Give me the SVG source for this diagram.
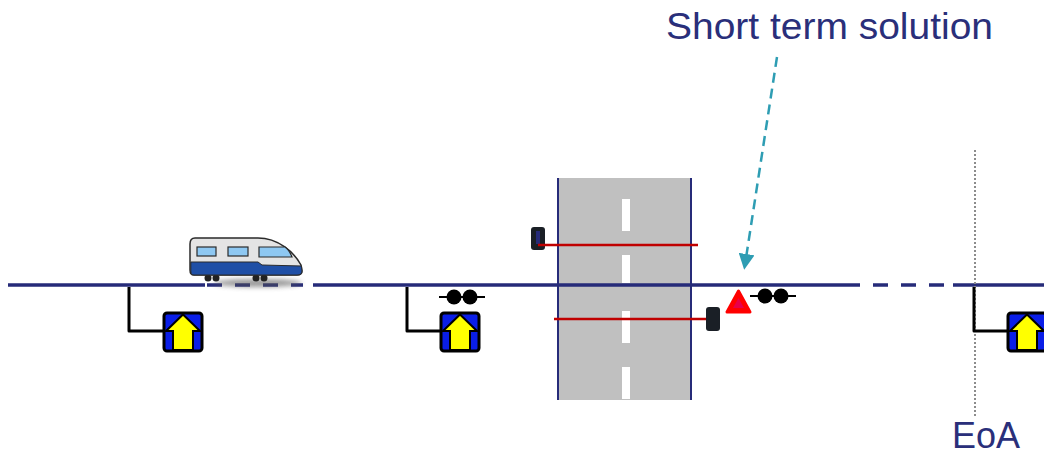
<svg xmlns="http://www.w3.org/2000/svg" width="1044" height="454" viewBox="0 0 1044 454">
  <defs>
    <style>
      .track { stroke: #262b79; stroke-width: 3.5; fill: none; }
      .lead { stroke: #000; stroke-width: 3; fill: none; stroke-linejoin: round; }
      .roadedge { stroke: #262b79; stroke-width: 2; }
      .lane { fill: #fff; }
      .barrier { stroke: #c00000; stroke-width: 2.5; }
      .lamp { fill: #1a1f26; }
      .label { font-family: "Century Gothic", "Liberation Sans", Arial, sans-serif; fill: #2a2f7a; }
    </style>
    <filter id="soft" x="-20%" y="-100%" width="140%" height="300%">
      <feGaussianBlur stdDeviation="2.5"/>
    </filter>
    <marker id="tealHead" markerWidth="16" markerHeight="16" refX="4" refY="8" orient="auto" markerUnits="userSpaceOnUse" viewBox="0 0 16 16">
      <path d="M0,0 L16,8 L0,16 Z" fill="#2e9db3"/>
    </marker>
    <!-- balise: blue box with yellow up arrow -->
    <g id="balise">
      <rect x="0" y="0" width="38" height="38" rx="3" fill="#0a1ee8" stroke="#000" stroke-width="3"/>
      <polygon points="19,1.5 36,18 29,18 29,37 9,37 9,18 2,18" fill="#ffff00" stroke="#000" stroke-width="2" stroke-linejoin="miter"/>
    </g>
    <!-- axle counter symbol -->
    <g id="axles">
      <line x1="-23" y1="0" x2="23" y2="0" stroke="#000" stroke-width="2"/>
      <circle cx="-8" cy="0" r="7.5" fill="#000"/>
      <circle cx="8" cy="0" r="7.5" fill="#000"/>
    </g>
  </defs>

  <!-- road crossing -->
  <g id="road">
    <rect x="558" y="178" width="134" height="222" fill="#c0c0c0"/>
    <rect class="lane" x="622" y="199" width="8" height="32"/>
    <rect class="lane" x="622" y="255" width="8" height="28"/>
    <rect class="lane" x="622" y="311" width="8" height="32"/>
    <rect class="lane" x="622" y="367" width="8" height="32"/>
  </g>

  <!-- track with dashed sections -->
  <g id="track">
    <line class="track" x1="8" y1="285" x2="205" y2="285"/>
    <line class="track" x1="207" y1="285" x2="303" y2="285" stroke-dasharray="15 13"/>
    <line class="track" x1="313" y1="285" x2="860" y2="285"/>
    <line class="track" x1="873" y1="285" x2="953" y2="285" stroke-dasharray="15 13"/>
    <line class="track" x1="953" y1="285" x2="1044" y2="285"/>
  </g>

  <g id="road-edges">
    <line class="roadedge" x1="558" y1="178" x2="558" y2="400"/>
    <line class="roadedge" x1="691" y1="178" x2="691" y2="400"/>
  </g>

  <!-- end of authority marker -->
  <g id="eoa">
    <line x1="975" y1="150" x2="975" y2="418" stroke="#8c8c8c" stroke-width="2" stroke-dasharray="2 2"/>
    <text class="label" x="952" y="448" font-size="36" textLength="68" lengthAdjust="spacingAndGlyphs">EoA</text>
  </g>

  <!-- connectors -->
  <g id="connectors">
    <polyline class="lead" points="129,287 129,331 164,331"/>
    <polyline class="lead" points="407,287 407,331 441,331"/>
    <polyline class="lead" points="974,287 974,331 1008,331"/>
    <line x1="777" y1="57" x2="746" y2="258" stroke="#2e9db3" stroke-width="2.5" stroke-dasharray="10 6" marker-end="url(#tealHead)"/>
  </g>

  <!-- balise groups -->
  <g id="balise-1"><use href="#balise" x="164" y="313"/></g>
  <g id="balise-2">
    <use href="#axles" x="462" y="297"/>
    <use href="#balise" x="441" y="313"/>
  </g>
  <g id="balise-3"><use href="#balise" x="1008" y="313"/></g>

  <!-- crossing barriers and lamps -->
  <g id="barrier-top">
    <rect class="lamp" x="531" y="227" width="14" height="23" rx="3"/>
    <rect x="536" y="231" width="4" height="13" fill="#262b79"/>
    <line class="barrier" x1="538" y1="245" x2="698" y2="245"/>
  </g>
  <g id="barrier-bottom">
    <line class="barrier" x1="554" y1="319" x2="712" y2="319"/>
    <rect class="lamp" x="706" y="307" width="14" height="24" rx="3"/>
  </g>

  <!-- short term device: warning triangle and axle counter -->
  <g id="short-term">
    <polygon points="738.5,291 750,312 727,312" fill="#ff0000" stroke="#ff0000" stroke-width="3" stroke-linejoin="round"/>
    <polygon points="738.5,298 744,308 733,308" fill="#e8004a"/>
    <use href="#axles" x="773" y="296"/>
  </g>

  <text class="label" x="666" y="39" font-size="36" textLength="327" lengthAdjust="spacingAndGlyphs">Short term solution</text>

  <!-- train -->
  <g id="train">
    <ellipse cx="258" cy="283" rx="44" ry="4" fill="#555" opacity="0.6" filter="url(#soft)"/>
    <circle cx="208" cy="278" r="3.5" fill="#222"/>
    <circle cx="216" cy="278" r="3.5" fill="#222"/>
    <circle cx="256" cy="278" r="3.5" fill="#222"/>
    <circle cx="264" cy="278" r="3.5" fill="#222"/>
    <path d="M195,238 L258,238 C278,238 294,252 301,265 L302,271 C302,274 300,275 297,275 L194,275 C191,275 190,273 190,270 L190,244 C190,240 192,238 195,238 Z" fill="#e4e4e4" stroke="#2a2a2a" stroke-width="1.5"/>
    <path d="M190.8,262 L258,262 L262,265 L301.5,266 L302,271 C302,274 300,275 297,275 L194,275 C191,275 190.8,273 190.8,270 Z" fill="#1f4fa6" stroke="#2a2a2a" stroke-width="1"/>
    <rect x="197" y="247" width="19" height="9" fill="#8ec8f2" stroke="#2a2a2a" stroke-width="1.2"/>
    <rect x="228" y="247" width="20" height="9" fill="#8ec8f2" stroke="#2a2a2a" stroke-width="1.2"/>
    <path d="M259,247 L285,247 C288,249 290,252 292,257 L259,257 Z" fill="#8ec8f2" stroke="#2a2a2a" stroke-width="1.2"/>
  </g>
</svg>
